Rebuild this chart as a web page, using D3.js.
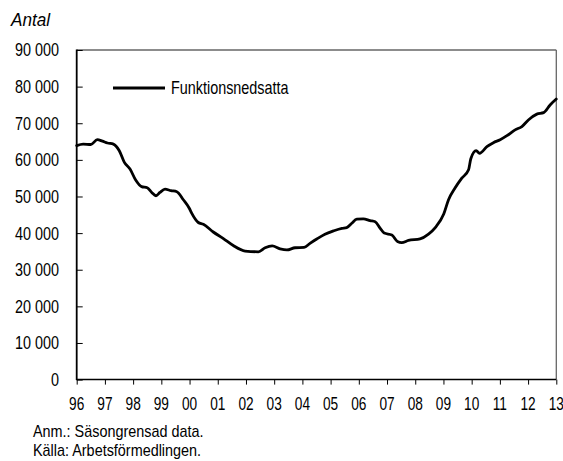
<!DOCTYPE html>
<html><head><meta charset="utf-8">
<script src="https://cdn.jsdelivr.net/npm/d3@7"></script>
<style>
html,body{margin:0;padding:0;background:#fff;}
svg text{font-family:"Liberation Sans",Arial,sans-serif;fill:#000;}
</style></head>
<body>
<svg id="chart" width="563" height="461"></svg>
<script>
// Data (decimal year, antal)
const dates = [1996.00,1996.23,1996.50,1996.73,1996.91,1997.09,1997.30,1997.51,1997.69,1997.89,
  1998.09,1998.30,1998.50,1998.66,1998.81,1998.95,1999.13,1999.34,1999.55,1999.78,1999.99,
  2000.08,2000.31,2000.49,2000.84,2001.20,2001.55,2001.97,2002.44,2002.68,2002.93,2003.21,
  2003.45,2003.74,2004.06,2004.27,2004.51,2004.80,2005.10,2005.40,2005.57,2005.75,2005.93,
  2006.16,2006.40,2006.58,2006.76,2006.90,2007.17,2007.37,2007.52,2007.76,2008.17,2008.47,
  2008.71,2009.01,2009.18,2009.41,2009.65,2009.89,2009.97,2010.16,2010.28,2010.54,2010.77,
  2011.01,2011.25,2011.54,2011.78,2012.01,2012.31,2012.55,2012.78,2013.00];
const values = [63900,64300,64200,65500,65100,64600,64300,62500,59300,57500,
  54500,52700,52400,51100,50200,51100,52000,51600,51300,49100,46800,
  45400,42900,42400,40300,38500,36600,35100,34900,36000,36500,35700,
  35400,36000,36100,37200,38400,39700,40600,41300,41500,42700,43800,
  43900,43400,43100,41300,40000,39500,37700,37400,38000,38400,39700,
  41500,45200,49100,52300,55000,57300,60300,62500,61800,63600,64700,
  65500,66600,68200,69100,70900,72500,72900,75000,76600];
const seriesName = "Funktionsnedsatta";
const yTicks = [0,10000,20000,30000,40000,50000,60000,70000,80000,90000];
const xTickYears = [1996,1997,1998,1999,2000,2001,2002,2003,2004,2005,2006,2007,2008,2009,2010,2011,2012,2013];
const xTickLabels = ["96","97","98","99","00","01","02","03","04","05","06","07","08","09","10","11","12","13"];
const yLabel = "Antal";
const notes = ["Anm.: Säsongrensad data.","Källa: Arbetsförmedlingen."];

const svg = d3.select("#chart");
const m = {left:76.7, right:556.3, top:50, bottom:379.6};
const x = d3.scaleLinear().domain([1996,2013]).range([m.left,m.right]);
const y = d3.scaleLinear().domain([0,90000]).range([m.bottom,m.top]);
const fmt = v => d3.format(",")(v).replace(/,/g," ");

// condensed text helper
function ctext(g, tx, ty, str, size, sx, anchor, dy, italic){
  const t = g.append("text")
    .attr("transform",`translate(${tx},${ty}) scale(${sx},1)`)
    .attr("text-anchor",anchor||"start")
    .style("font-size",size+"px")
    .text(str);
  if(dy) t.attr("dy",dy);
  if(italic) t.style("font-style","italic");
  return t;
}

// frame (top, right) gray
svg.append("line").attr("x1",m.left).attr("x2",m.right).attr("y1",m.top).attr("y2",m.top)
  .attr("stroke","#666").attr("stroke-width",1.3);
svg.append("line").attr("x1",m.right).attr("x2",m.right).attr("y1",m.top).attr("y2",m.bottom)
  .attr("stroke","#666").attr("stroke-width",1.3);

// y axis
const yAxis = svg.append("g").attr("transform",`translate(${m.left},0)`)
  .call(d3.axisRight(y).tickValues(yTicks).tickSize(6).tickFormat(""));
yAxis.select(".domain").remove();
yAxis.selectAll(".tick line").attr("stroke","#000").attr("stroke-width",1);
const yl = svg.append("g");
yTicks.forEach(v => ctext(yl, 59, y(v), fmt(v), 18, 0.8, "end", "0.36em"));
svg.append("line").attr("x1",m.left).attr("x2",m.left).attr("y1",m.top-0.5).attr("y2",m.bottom+0.5)
  .attr("stroke","#000").attr("stroke-width",1.8);

// x axis
const xAxis = svg.append("g").attr("transform",`translate(0,${m.bottom})`)
  .call(d3.axisBottom(x).tickValues(xTickYears).tickSize(5).tickFormat(""));
xAxis.select(".domain").remove();
xAxis.selectAll(".tick line").attr("stroke","#000").attr("stroke-width",1);
svg.append("line").attr("x1",m.left).attr("x2",m.right).attr("y1",m.bottom).attr("y2",m.bottom)
  .attr("stroke","#000").attr("stroke-width",1.5);
const xl = svg.append("g");
xTickYears.forEach((yr,i) => ctext(xl, x(yr), 410, xTickLabels[i], 18, 0.76, "middle"));

// y label
ctext(svg, 11, 26, yLabel, 17.5, 0.98, "start", null, true);

// line
const pts = dates.map((d,i)=>[d,values[i]]);
svg.append("path").datum(pts)
  .attr("fill","none").attr("stroke","#000").attr("stroke-width",2.8)
  .attr("stroke-linejoin","round").attr("stroke-linecap","round")
  .attr("d",d3.line().x(d=>x(d[0])).y(d=>y(d[1])).curve(d3.curveMonotoneX));

// legend
svg.append("line").attr("x1",113).attr("x2",165).attr("y1",88).attr("y2",88)
  .attr("stroke","#000").attr("stroke-width",2.8);
ctext(svg, 171, 88, seriesName, 18, 0.8, "start", "0.36em");

// notes
notes.forEach((n,i) => ctext(svg, 33, 437+i*19, n, 16, 0.9, "start"));
</script>
</body></html>
